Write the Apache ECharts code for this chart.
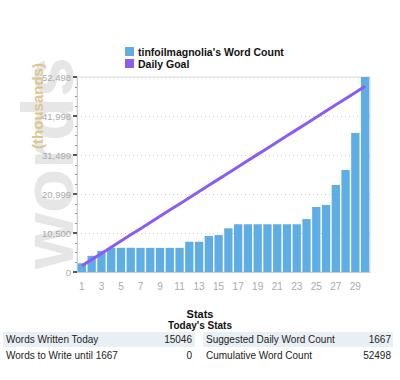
<!DOCTYPE html>
<html><head><meta charset="utf-8">
<script src="https://cdn.jsdelivr.net/npm/echarts@6/dist/echarts.min.js"></script>
<style>html,body{margin:0;padding:0;background:#fff}#c{width:400px;height:380px}</style>
</head><body><div id="c"></div>
<script>
var days = ['1','2','3','4','5','6','7','8','9','10','11','12','13','14','15','16','17','18','19','20','21','22','23','24','25','26','27','28','29','30'];
var wordCount = [2340,4350,5700,6500,6500,6500,6500,6500,6500,6500,6500,8150,8150,9700,9950,11750,12850,12850,12850,12850,12850,12850,12850,14250,17500,18050,23400,27450,37452,52498];
var dailyGoal = [1667,3333,5000,6667,8333,10000,11667,13333,15000,16667,18333,20000,21667,23333,25000,26667,28333,30000,31667,33333,35000,36667,38333,40000,41667,43333,45000,46667,48333,50000];
var yMax = 52498;
var statsLeft = [['Words Written Today','15046'],['Words to Write until 1667','0']];
var statsRight = [['Suggested Daily Word Count','1667'],['Cumulative Word Count','52498']];

var chart = echarts.init(document.getElementById('c'), null, {renderer:'svg'});
var F = 'Liberation Sans, Arial, sans-serif';
var g = [
  {type:'text', z:-10, x:48, y:163, rotation:Math.PI/2, silent:true,
   style:{text:'words', font:'bold 72px '+F, fill:'#e6e6e6', textAlign:'center', textVerticalAlign:'middle'}},
  {type:'text', z:-9, x:45, y:106, rotation:Math.PI/2, silent:true,
   style:{text:'(thousands)', font:'bold 15px '+F, fill:'#dac68f', textAlign:'center', textVerticalAlign:'bottom'}},
  {type:'text', x:200, y:314, style:{text:'Stats', font:'bold 11px '+F, fill:'#111', textAlign:'center', textVerticalAlign:'middle'}},
  {type:'text', x:200, y:325, style:{text:"Today's Stats", font:'bold 10px '+F, fill:'#111', textAlign:'center', textVerticalAlign:'middle'}},
  {type:'rect', shape:{x:3,y:332,width:192,height:15}, style:{fill:'#e9f0f5'}},
  {type:'rect', shape:{x:203,y:332,width:190,height:15}, style:{fill:'#e9f0f5'}}
];
[statsLeft, statsRight].forEach(function(rows, k){
  var x0 = k===0 ? 6 : 206, x1 = k===0 ? 192 : 391;
  rows.forEach(function(r, i){
    var y = 339.5 + i*16;
    g.push({type:'text', x:x0, y:y, style:{text:r[0], font:'10px '+F, fill:'#222', textAlign:'left', textVerticalAlign:'middle'}});
    g.push({type:'text', x:x1, y:y, style:{text:r[1], font:'10px '+F, fill:'#222', textAlign:'right', textVerticalAlign:'middle'}});
  });
});

chart.setOption({
  animation:false,
  backgroundColor:'#fff',
  graphic:g,
  legend:{
    orient:'vertical', left:125, top:46, padding:0, itemWidth:9, itemHeight:9, itemGap:1,
    textStyle:{fontFamily:F, fontWeight:'bold', fontSize:10.5, lineHeight:10, color:'#111', padding:[0,0,0,-1]},
    data:[{name:"tinfoilmagnolia's Word Count", icon:'rect'},{name:'Daily Goal', icon:'rect'}]
  },
  grid:{left:77, right:30, top:77, bottom:108, show:true, borderColor:'#ddd', borderWidth:1, backgroundColor:'transparent'},
  xAxis:[{
    type:'category', data:days, position:'bottom',
    axisLine:{lineStyle:{color:'#ccc'}},
    axisTick:{alignWithLabel:true, interval:1, length:4, lineStyle:{color:'#222', width:1.5}},
    axisLabel:{interval:1, margin:9, color:'#aaa', fontSize:10, fontFamily:F}
  },{
    type:'category', data:days, position:'bottom', gridIndex:0,
    axisLine:{show:false},
    axisTick:{alignWithLabel:true, interval:0, length:2, lineStyle:{color:'#bbb'}},
    axisLabel:{show:false}
  }],
  yAxis:{
    type:'value', min:0, max:yMax, interval:yMax/5,
    axisLine:{show:true, lineStyle:{color:'#ccc'}},
    axisTick:{show:true, length:4, lineStyle:{color:'#222', width:1.5}},
    minorTick:{show:true, splitNumber:4, length:2, lineStyle:{color:'#999'}},
    splitLine:{show:true, lineStyle:{color:'#ccc', type:[1,3]}},
    axisLabel:{color:'#aaa', fontSize:9.5, fontFamily:F, margin:6,
      formatter:function(v){return Math.round(v).toLocaleString('en-US');}}
  },
  series:[
    {name:"tinfoilmagnolia's Word Count", type:'bar', data:wordCount, barCategoryGap:'15%',
     itemStyle:{color:'#5eade5'}},
    {name:'Daily Goal', type:'line', data:dailyGoal, symbol:'none', z:3,
     lineStyle:{color:'#8b5cf3', width:3}, itemStyle:{color:'#8b5cf3'}}
  ]
});
</script></body></html>
